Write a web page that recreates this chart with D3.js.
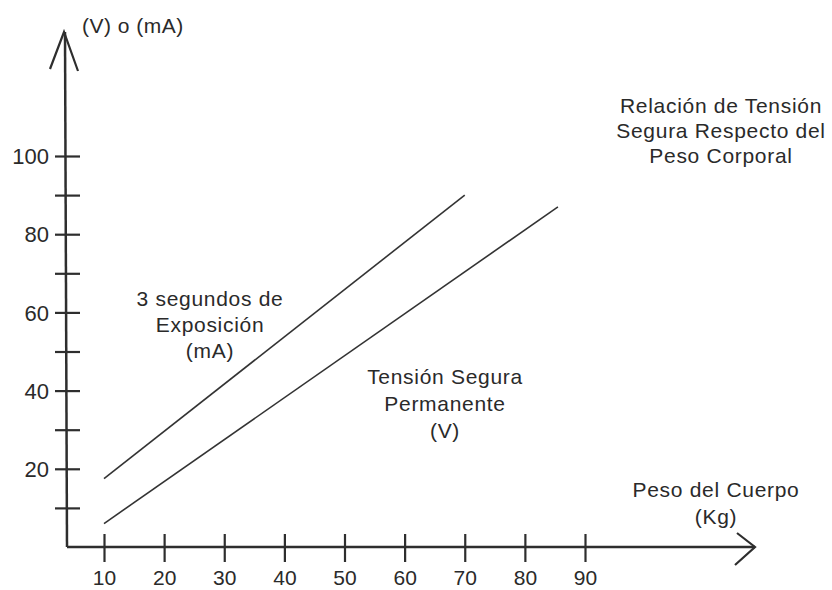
<!DOCTYPE html>
<html>
<head>
<meta charset="utf-8">
<script src="https://cdn.jsdelivr.net/npm/d3@7"></script>
<style>
  html, body { margin: 0; padding: 0; background: #fff; overflow: hidden; }
  svg { display: block; }
  text { font-family: "Liberation Sans", Arial, sans-serif; fill: #2a2a2a; }
</style>
</head>
<body>
<svg id="chart" width="832" height="590"></svg>
<script>
// ---- data ----
const xTickValues = [10, 20, 30, 40, 50, 60, 70, 80, 90];
const yTickValues = [10, 20, 30, 40, 50, 60, 70, 80, 90, 100];
const yLabelValues = [20, 40, 60, 80, 100];
const current3s = [ {w: 10, v: 17.5}, {w: 70, v: 90} ];   // 3 segundos de Exposición (mA)
const safeVoltage = [ {w: 10, v: 6}, {w: 85.5, v: 87} ];   // Tensión Segura Permanente (V)
const titleLines = ["Relación de Tensión", "Segura Respecto del", "Peso Corporal"];
const yAxisTitle = "(V) o (mA)";
const xAxisTitle = ["Peso del Cuerpo", "(Kg)"];
const label3s = ["3 segundos de", "Exposición", "(mA)"];
const labelV = ["Tensión Segura", "Permanente", "(V)"];

// ---- layout ----
const svg = d3.select("#chart");
const ink = "#2e2e2e";
const x = d3.scaleLinear().domain([10, 90]).range([104, 585]);
const y = d3.scaleLinear().domain([0, 100]).range([547, 156]);
const axisX = 67, axisY = y(0);
const xEnd = 755, yTop = 32;

// axes lines
svg.append("line").attr("x1", axisX).attr("y1", axisY).attr("x2", xEnd).attr("y2", axisY)
  .attr("stroke", ink).attr("stroke-width", 2.5);
svg.append("line").attr("x1", axisX).attr("y1", axisY).attr("x2", axisX - 2).attr("y2", yTop)
  .attr("stroke", ink).attr("stroke-width", 2.5);
// arrowheads
svg.append("path").attr("d", `M${xEnd - 18},${axisY - 14} L${xEnd},${axisY} L${xEnd - 20},${axisY + 18}`)
  .attr("fill", "none").attr("stroke", ink).attr("stroke-width", 2.2);
svg.append("path").attr("d", `M${axisX - 17},${yTop + 37} L${axisX - 3},${yTop} L${axisX + 11},${yTop + 39}`)
  .attr("fill", "none").attr("stroke", ink).attr("stroke-width", 2.2);

// x ticks & labels via axis
const xAxis = d3.axisBottom(x).tickValues(xTickValues).tickSize(0).tickPadding(0).tickFormat(d3.format("d"));
const gx = svg.append("g").attr("transform", `translate(0,${axisY})`).call(xAxis);
gx.select(".domain").remove();
gx.selectAll(".tick line").attr("y1", -13).attr("y2", 15).attr("stroke", ink).attr("stroke-width", 2.2);
gx.selectAll(".tick text").attr("y", 38).attr("dy", 0).attr("font-size", 21)
  .attr("fill", ink).style("font-family", "Liberation Sans, Arial, sans-serif");

// y ticks & labels via axis
const yAxis = d3.axisLeft(y).tickValues(yTickValues).tickSize(0).tickPadding(0)
  .tickFormat(d => yLabelValues.includes(d) ? d : "");
const gy = svg.append("g").attr("transform", `translate(${axisX},0)`).call(yAxis);
gy.select(".domain").remove();
gy.selectAll(".tick line").attr("x1", -12).attr("x2", 13).attr("stroke", ink).attr("stroke-width", 2.2);
gy.selectAll(".tick text").attr("x", -18).attr("dy", "0.35em").attr("font-size", 22)
  .attr("fill", ink).style("font-family", "Liberation Sans, Arial, sans-serif");

// series lines
const line = d3.line().x(d => x(d.w)).y(d => y(d.v));
[current3s, safeVoltage].forEach(s => {
  svg.append("path").datum(s).attr("d", line)
    .attr("fill", "none").attr("stroke", "#333").attr("stroke-width", 1.6);
});

// text blocks
function block(lines, cx, y0, dy, size) {
  const t = svg.append("text").attr("text-anchor", "middle").attr("font-size", size)
    .attr("letter-spacing", 0.7);
  lines.forEach((s, i) => t.append("tspan").attr("x", cx).attr("y", y0 + i * dy).text(s));
}
block(titleLines, 721, 113, 25, 21);
block(xAxisTitle, 716, 497, 27, 21);
block(label3s, 210, 306, 26, 21);
block(labelV, 445, 384, 27, 21);
svg.append("text").attr("x", 82).attr("y", 33).attr("font-size", 21).attr("letter-spacing", 0.5).text(yAxisTitle);
</script>
</body>
</html>
